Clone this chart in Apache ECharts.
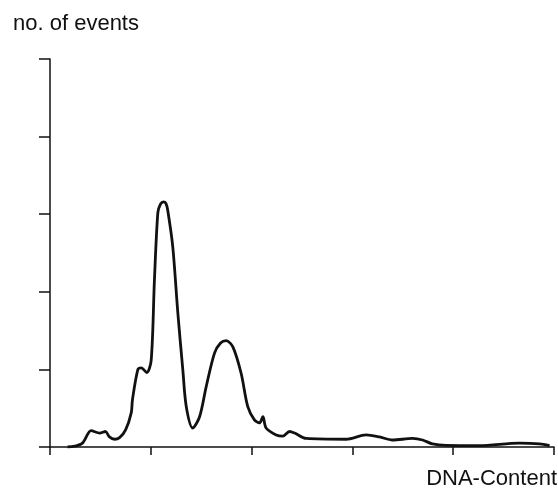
<!DOCTYPE html>
<html>
<head>
<meta charset="utf-8">
<script src="https://cdn.jsdelivr.net/npm/echarts@6/dist/echarts.min.js"></script>
<style>
html, body { margin: 0; padding: 0; background: #fff; }
#main { width: 558px; height: 489px; }
</style>
</head>
<body>
<div id="main"></div>
<script>
// DNA content histogram (channel, no. of events)
var channels = [8.7, 12.2, 16.1, 20.4, 24.6, 27.5, 29.5, 32, 34.5, 37.5, 40.3, 40.9, 43.6, 45.2, 48.0, 50.2,
  51.8, 53.5, 54.8, 56.3, 57.5, 58.4, 60.9, 63.4, 65.9, 67.6, 70.8, 74.2, 77.5, 81.6, 84.6, 87.4, 90.7,
  94.8, 98.1, 101.4, 103.9, 105.6, 107.2, 112.2, 115.5, 118.8, 121.3, 127.1, 146.9, 156.8, 163.4, 169.9,
  179.8, 184.8, 189.7, 196.5, 213, 232.9, 242.8, 247.8];
var events = [0, 0.01, 0.05, 0.21, 0.18, 0.20, 0.13, 0.10, 0.12, 0.22, 0.44, 0.61, 1.0, 1.02, 0.96, 1.12,
  2.15, 3.02, 3.13, 3.16, 3.14, 3.05, 2.58, 1.73, 0.99, 0.52, 0.245, 0.39, 0.78, 1.21, 1.34, 1.37, 1.29,
  0.95, 0.52, 0.35, 0.31, 0.39, 0.245, 0.155, 0.14, 0.20, 0.18, 0.11, 0.10, 0.155, 0.13, 0.09,
  0.11, 0.09, 0.04, 0.02, 0.017, 0.05, 0.04, 0.017];

var points = [];
for (var i = 0; i < channels.length; i++) {
  points.push([channels[i], events[i]]);
}

var myChart = echarts.init(document.getElementById('main'));
var option = {
  animation: false,
  grid: { left: 50, right: 4, top: 59, bottom: 42 },
  graphic: [
    { type: 'text', left: 13, top: 13,
      style: { text: 'no. of events', font: '22px "Liberation Sans", Arial, sans-serif', fill: '#111' } },
    { type: 'text', right: 1, top: 468,
      style: { text: 'DNA-Content', font: '22px "Liberation Sans", Arial, sans-serif', fill: '#111' } }
  ],
  xAxis: {
    type: 'value',
    min: 0, max: 250, interval: 50,
    axisLine: { lineStyle: { color: '#111', width: 1.5 } },
    axisTick: { length: 8, lineStyle: { color: '#111', width: 1.5 } },
    axisLabel: { show: false },
    splitLine: { show: false }
  },
  yAxis: {
    type: 'value',
    min: 0, max: 5, interval: 1,
    axisLine: { show: true, lineStyle: { color: '#111', width: 1.5 } },
    axisTick: { show: true, length: 11, lineStyle: { color: '#111', width: 1.5 } },
    axisLabel: { show: false },
    splitLine: { show: false }
  },
  series: [{
    type: 'line',
    data: points,
    smooth: 0.3,
    showSymbol: false,
    lineStyle: { color: '#111', width: 2.8 }
  }]
};
myChart.setOption(option);
window.onresize = myChart.resize;
</script>
</body>
</html>
